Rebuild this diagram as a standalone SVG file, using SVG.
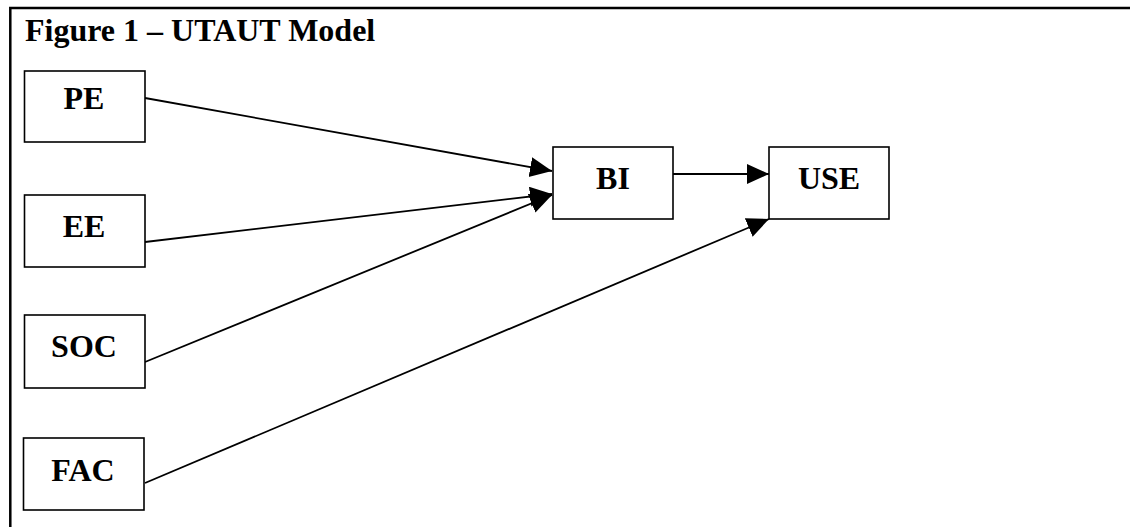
<svg xmlns="http://www.w3.org/2000/svg" width="1130" height="527" viewBox="0 0 1130 527">
<style>
.box{fill:#fff;stroke:#000;stroke-width:1.6}
.lbl{font-family:"Liberation Serif","Times New Roman",serif;font-weight:bold;font-size:32px;text-anchor:middle;fill:#000}
.title{font-family:"Liberation Serif","Times New Roman",serif;font-weight:bold;font-size:32px;fill:#000}
.conn{stroke:#000;stroke-width:1.8;fill:none;marker-end:url(#arr)}
.frame{stroke:#000;stroke-width:2.5;fill:none}
</style>
<defs>
<marker id="arr" markerUnits="userSpaceOnUse" markerWidth="24" markerHeight="22" refX="22" refY="10" orient="auto">
<path d="M0,0 L22,10 L0,20 z" fill="#000"/>
</marker>
</defs>
<rect width="1130" height="527" fill="#fff"/>
<g id="frame">
<path class="frame" d="M1130,8 H10.3 V527"/>
<text class="title" x="25" y="41">Figure 1 – UTAUT Model</text>
</g>
<g id="connectors">
<line class="conn" x1="145" y1="98" x2="552" y2="171"/>
<line class="conn" x1="145" y1="242" x2="552" y2="194"/>
<line class="conn" x1="145" y1="362" x2="552" y2="195"/>
<line class="conn" x1="673" y1="174" x2="769" y2="174"/>
<line class="conn" x1="145" y1="483" x2="769" y2="219"/>
</g>
<g id="PE"><rect class="box" x="24.5" y="71" width="120.5" height="71"/><text class="lbl" x="84" y="108.5">PE</text></g>
<g id="EE"><rect class="box" x="24.5" y="195" width="120.5" height="72"/><text class="lbl" x="84" y="236.5">EE</text></g>
<g id="SOC"><rect class="box" x="24.5" y="315" width="120.5" height="73"/><text class="lbl" x="84" y="356.5">SOC</text></g>
<g id="FAC"><rect class="box" x="23.5" y="438" width="120.5" height="72"/><text class="lbl" x="83" y="481">FAC</text></g>
<g id="BI"><rect class="box" x="553" y="147" width="120" height="72"/><text class="lbl" x="613" y="188.5">BI</text></g>
<g id="USE"><rect class="box" x="769" y="147" width="120" height="72"/><text class="lbl" x="829" y="188.5">USE</text></g>
</svg>
